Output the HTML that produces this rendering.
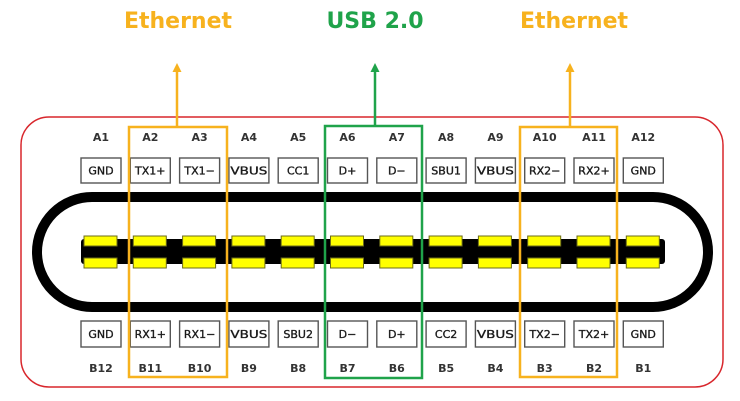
<!DOCTYPE html>
<html><head><meta charset="utf-8"><style>
html,body{margin:0;padding:0;background:#fff;}
svg{display:block;}
.lbl{font-family:"DejaVu Sans","Liberation Sans",sans-serif;font-size:11px;font-weight:bold;fill:#333;text-anchor:middle;}
.bt{font-family:"DejaVu Sans","Liberation Sans",sans-serif;font-size:11px;fill:#1a1a1a;stroke:#1a1a1a;stroke-width:0.35;text-anchor:middle;}
.ttl{font-family:"DejaVu Sans","Liberation Sans",sans-serif;font-size:22px;font-weight:bold;text-anchor:middle;}
</style></head><body>
<svg width="740" height="401" viewBox="0 0 740 401" xmlns="http://www.w3.org/2000/svg">
<rect x="0" y="0" width="740" height="401" fill="#fff"/>
<!-- red outline -->
<rect x="21" y="117" width="702" height="270" rx="28" ry="28" fill="none" stroke="#d8262c" stroke-width="1.5"/>
<!-- stadium -->
<rect x="37" y="197" width="671" height="110" rx="55" ry="55" fill="none" stroke="#000" stroke-width="10"/>
<!-- inner bar -->
<rect x="81" y="239" width="584" height="25" rx="3" fill="#000"/>
<g fill="#ffff00" stroke="#6b6b1a" stroke-width="1">
<rect x="84" y="236" width="33" height="10"/><rect x="84" y="258" width="33" height="10"/>
<rect x="133.3" y="236" width="33" height="10"/><rect x="133.3" y="258" width="33" height="10"/>
<rect x="182.6" y="236" width="33" height="10"/><rect x="182.6" y="258" width="33" height="10"/>
<rect x="231.9" y="236" width="33" height="10"/><rect x="231.9" y="258" width="33" height="10"/>
<rect x="281.2" y="236" width="33" height="10"/><rect x="281.2" y="258" width="33" height="10"/>
<rect x="330.5" y="236" width="33" height="10"/><rect x="330.5" y="258" width="33" height="10"/>
<rect x="379.8" y="236" width="33" height="10"/><rect x="379.8" y="258" width="33" height="10"/>
<rect x="429.1" y="236" width="33" height="10"/><rect x="429.1" y="258" width="33" height="10"/>
<rect x="478.4" y="236" width="33" height="10"/><rect x="478.4" y="258" width="33" height="10"/>
<rect x="527.7" y="236" width="33" height="10"/><rect x="527.7" y="258" width="33" height="10"/>
<rect x="577" y="236" width="33" height="10"/><rect x="577" y="258" width="33" height="10"/>
<rect x="626.3" y="236" width="33" height="10"/><rect x="626.3" y="258" width="33" height="10"/>
</g>
<!-- pin boxes -->
<g fill="#fff" stroke="#555" stroke-width="1.4">
<rect x="81" y="158" width="40" height="25"/><rect x="81" y="321" width="40" height="26"/>
<rect x="130.3" y="158" width="40" height="25"/><rect x="130.3" y="321" width="40" height="26"/>
<rect x="179.6" y="158" width="40" height="25"/><rect x="179.6" y="321" width="40" height="26"/>
<rect x="228.9" y="158" width="40" height="25"/><rect x="228.9" y="321" width="40" height="26"/>
<rect x="278.2" y="158" width="40" height="25"/><rect x="278.2" y="321" width="40" height="26"/>
<rect x="327.5" y="158" width="40" height="25"/><rect x="327.5" y="321" width="40" height="26"/>
<rect x="376.8" y="158" width="40" height="25"/><rect x="376.8" y="321" width="40" height="26"/>
<rect x="426.1" y="158" width="40" height="25"/><rect x="426.1" y="321" width="40" height="26"/>
<rect x="475.4" y="158" width="40" height="25"/><rect x="475.4" y="321" width="40" height="26"/>
<rect x="524.7" y="158" width="40" height="25"/><rect x="524.7" y="321" width="40" height="26"/>
<rect x="574" y="158" width="40" height="25"/><rect x="574" y="321" width="40" height="26"/>
<rect x="623.3" y="158" width="40" height="25"/><rect x="623.3" y="321" width="40" height="26"/>
</g>
<!-- A labels -->
<g class="lbl">
<text x="101" y="141">A1</text><text x="150.3" y="141">A2</text><text x="199.6" y="141">A3</text>
<text x="248.9" y="141">A4</text><text x="298.2" y="141">A5</text><text x="347.5" y="141">A6</text>
<text x="396.8" y="141">A7</text><text x="446.1" y="141">A8</text><text x="495.4" y="141">A9</text>
<text x="544.7" y="141">A10</text><text x="594" y="141">A11</text><text x="643.3" y="141">A12</text>
</g>
<g class="bt">
<text x="101" y="174.5">GND</text><text x="150.3" y="174.5">TX1+</text><text x="199.6" y="174.5">TX1−</text>
<text x="248.9" y="174.5" textLength="37" lengthAdjust="spacingAndGlyphs">VBUS</text><text x="298.2" y="174.5">CC1</text><text x="347.5" y="174.5">D+</text>
<text x="396.8" y="174.5">D−</text><text x="446.1" y="174.5">SBU1</text><text x="495.4" y="174.5" textLength="37" lengthAdjust="spacingAndGlyphs">VBUS</text>
<text x="544.7" y="174.5">RX2−</text><text x="594" y="174.5">RX2+</text><text x="643.3" y="174.5">GND</text>
</g>
<g class="bt">
<text x="101" y="338">GND</text><text x="150.3" y="338">RX1+</text><text x="199.6" y="338">RX1−</text>
<text x="248.9" y="338" textLength="37" lengthAdjust="spacingAndGlyphs">VBUS</text><text x="298.2" y="338">SBU2</text><text x="347.5" y="338">D−</text>
<text x="396.8" y="338">D+</text><text x="446.1" y="338">CC2</text><text x="495.4" y="338" textLength="37" lengthAdjust="spacingAndGlyphs">VBUS</text>
<text x="544.7" y="338">TX2−</text><text x="594" y="338">TX2+</text><text x="643.3" y="338">GND</text>
</g>
<g class="lbl">
<text x="101" y="372">B12</text><text x="150.3" y="372">B11</text><text x="199.6" y="372">B10</text>
<text x="248.9" y="372">B9</text><text x="298.2" y="372">B8</text><text x="347.5" y="372">B7</text>
<text x="396.8" y="372">B6</text><text x="446.1" y="372">B5</text><text x="495.4" y="372">B4</text>
<text x="544.7" y="372">B3</text><text x="594" y="372">B2</text><text x="643.3" y="372">B1</text>
</g>
<!-- highlight boxes -->
<g fill="none" stroke-width="2.5">
<rect x="129" y="127" width="98" height="250" stroke="#f7b21e"/>
<rect x="520" y="127" width="97" height="250" stroke="#f7b21e"/>
<rect x="325" y="126" width="97" height="252" stroke="#1fa34a"/>
</g>
<!-- connectors -->
<line x1="177" y1="127" x2="177" y2="70" stroke="#f7b21e" stroke-width="2.5"/>
<polygon points="177,63 172.5,72 181.5,72" fill="#f7b21e"/>
<line x1="375" y1="126" x2="375" y2="70" stroke="#1fa34a" stroke-width="2.5"/>
<polygon points="375,63 370.5,72 379.5,72" fill="#1fa34a"/>
<line x1="570" y1="127" x2="570" y2="70" stroke="#f7b21e" stroke-width="2.5"/>
<polygon points="570,63 565.5,72 574.5,72" fill="#f7b21e"/>
<!-- titles -->
<text class="ttl" x="178" y="28" fill="#f7b21e">Ethernet</text>
<text class="ttl" x="375" y="28" fill="#1fa34a">USB 2.0</text>
<text class="ttl" x="574" y="28" fill="#f7b21e">Ethernet</text>
</svg>
</body></html>
